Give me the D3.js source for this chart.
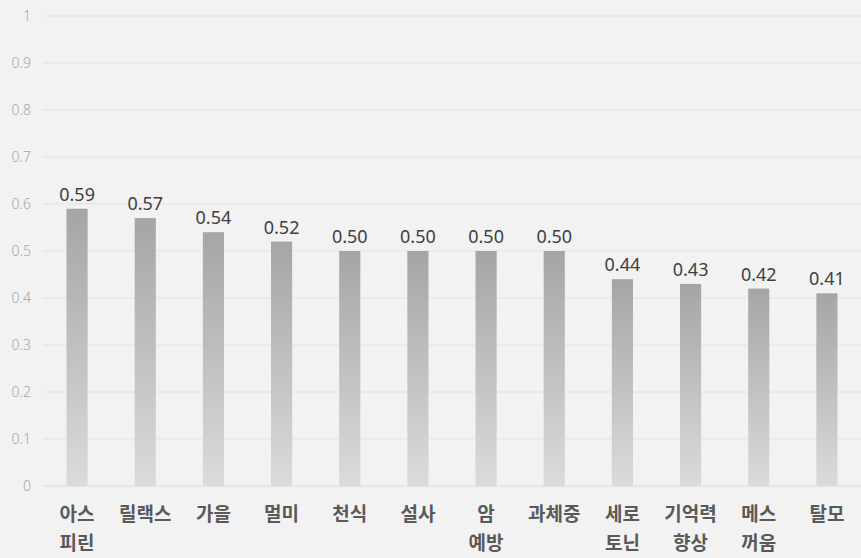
<!DOCTYPE html>
<html>
<head>
<meta charset="utf-8">
<script src="https://cdn.jsdelivr.net/npm/d3@7"></script>
<style>
  body { margin: 0; background: #f2f2f2; }
</style>
</head>
<body>
<script>
const width = 861;
const height = 558;
const margin = { top: 16, right: 0, bottom: 72, left: 43 };

// data
const categories = [
  ["아스", "피린"],
  ["릴랙스"],
  ["가을"],
  ["멀미"],
  ["천식"],
  ["설사"],
  ["암", "예방"],
  ["과체중"],
  ["세로", "토닌"],
  ["기억력", "향상"],
  ["메스", "꺼움"],
  ["탈모"],
];
const values = [0.59, 0.57, 0.54, 0.52, 0.5, 0.5, 0.5, 0.5, 0.44, 0.43, 0.42, 0.41];
const yTicks = [0, 0.1, 0.2, 0.3, 0.4, 0.5, 0.6, 0.7, 0.8, 0.9, 1];

const svg = d3
  .select("body")
  .append("svg")
  .attr("width", width)
  .attr("height", height)
  .style("background", "#f2f2f2");

const grad = svg
  .append("defs")
  .append("linearGradient")
  .attr("id", "barGrad")
  .attr("x1", 0)
  .attr("y1", 0)
  .attr("x2", 0)
  .attr("y2", 1);
grad.append("stop").attr("offset", "0%").attr("stop-color", "#a5a5a5");
grad.append("stop").attr("offset", "100%").attr("stop-color", "#dbdbdb");

const x = d3
  .scaleBand()
  .domain(d3.range(categories.length))
  .range([margin.left, width - margin.right])
  .paddingInner(0.69)
  .paddingOuter(0.345);

const y = d3
  .scaleLinear()
  .domain([0, 1])
  .range([height - margin.bottom, margin.top]);

// gridlines
svg
  .append("g")
  .selectAll("line")
  .data(yTicks)
  .join("line")
  .attr("x1", margin.left)
  .attr("x2", width - margin.right)
  .attr("y1", (d) => y(d))
  .attr("y2", (d) => y(d))
  .attr("stroke", (d) => (d === 0 ? "#d9d9d9" : "#e2e2e2"))
  .attr("stroke-width", 1);

// y tick labels
svg
  .append("g")
  .selectAll("text")
  .data(yTicks)
  .join("text")
  .attr("x", 31)
  .attr("y", (d) => y(d))
  .attr("dy", "0.35em")
  .attr("text-anchor", "end")
  .attr("fill", "#a6a6a6")
  .attr("font-family", "Noto Sans, sans-serif")
  .attr("font-size", "14px")
  .attr("font-weight", 300)
  .text((d) => d3.format("~g")(d));

// bars
svg
  .append("g")
  .selectAll("rect")
  .data(values)
  .join("rect")
  .attr("x", (d, i) => x(i))
  .attr("y", (d) => y(d))
  .attr("width", x.bandwidth())
  .attr("height", (d) => y(0) - y(d))
  .attr("fill", "url(#barGrad)");

// value labels
svg
  .append("g")
  .selectAll("text")
  .data(values)
  .join("text")
  .attr("x", (d, i) => x(i) + x.bandwidth() / 2)
  .attr("y", (d) => y(d) - 8)
  .attr("text-anchor", "middle")
  .attr("fill", "#404040")
  .attr("font-family", "Noto Sans, sans-serif")
  .attr("font-size", "18px")
  .text((d) => d3.format(".2f")(d));

// category labels
const catLabels = svg
  .append("g")
  .selectAll("text")
  .data(categories)
  .join("text")
  .attr("x", (d, i) => x(i) + x.bandwidth() / 2)
  .attr("y", 521)
  .attr("text-anchor", "middle")
  .attr("fill", "#595959")
  .attr("font-family", "Noto Sans CJK KR, sans-serif")
  .attr("font-size", "19px")
  .attr("font-weight", "bold");

catLabels
  .selectAll("tspan")
  .data((d) => d)
  .join("tspan")
  .attr("x", function () {
    return d3.select(this.parentNode).attr("x");
  })
  .attr("dy", (d, i) => (i === 0 ? 0 : 29))
  .text((d) => d);
</script>
</body>
</html>
